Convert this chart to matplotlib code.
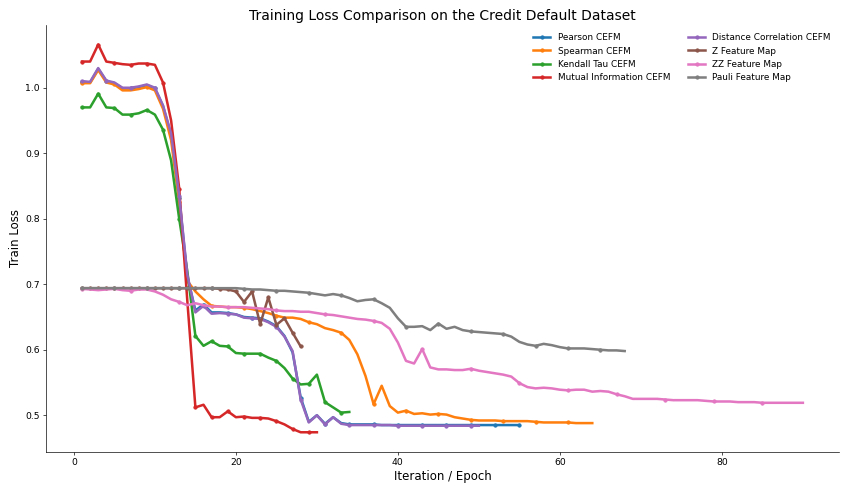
import matplotlib
matplotlib.use("Agg")
import matplotlib.pyplot as plt

pearson = [1.009, 1.008, 1.029, 1.010, 1.007, 0.999, 0.999, 1.001, 1.004, 0.999,
           0.972, 0.928, 0.832, 0.712, 0.660, 0.669, 0.657, 0.657, 0.656, 0.654,
           0.650, 0.649, 0.648, 0.643, 0.636, 0.621, 0.596, 0.527, 0.490, 0.500,
           0.487, 0.497, 0.488, 0.486, 0.486, 0.486, 0.486, 0.485, 0.485, 0.485,
           0.485, 0.485, 0.485, 0.485, 0.485, 0.485, 0.485, 0.485, 0.485, 0.485,
           0.485, 0.485, 0.485, 0.485, 0.485]
spearman = [1.007, 1.007, 1.027, 1.008, 1.005, 0.996, 0.996, 0.998, 1.001, 0.996,
            0.968, 0.920, 0.825, 0.705, 0.689, 0.677, 0.667, 0.666, 0.665, 0.665,
            0.664, 0.662, 0.659, 0.656, 0.652, 0.649, 0.649, 0.647, 0.642, 0.639,
            0.633, 0.630, 0.626, 0.615, 0.593, 0.560, 0.517, 0.545, 0.514, 0.504,
            0.507, 0.502, 0.503, 0.501, 0.502, 0.501, 0.497, 0.495, 0.493, 0.492,
            0.492, 0.492, 0.491, 0.491, 0.491, 0.491, 0.490, 0.489, 0.489, 0.489,
            0.489, 0.488, 0.488, 0.488]
kendall = [0.970, 0.970, 0.991, 0.970, 0.969, 0.959, 0.959, 0.961, 0.966, 0.959,
           0.936, 0.889, 0.800, 0.720, 0.621, 0.606, 0.613, 0.606, 0.605, 0.595,
           0.594, 0.594, 0.594, 0.588, 0.583, 0.572, 0.556, 0.547, 0.548, 0.562,
           0.520, 0.512, 0.504, 0.505]
mutual_info = [1.040, 1.040, 1.066, 1.040, 1.038, 1.036, 1.035, 1.037, 1.037, 1.035,
               1.008, 0.950, 0.846, 0.675, 0.512, 0.516, 0.497, 0.497, 0.506, 0.497,
               0.498, 0.496, 0.496, 0.495, 0.491, 0.486, 0.479, 0.474, 0.474, 0.474]
distance_corr = [1.010, 1.009, 1.030, 1.011, 1.008, 1.000, 1.000, 1.002, 1.005, 1.000,
                 0.973, 0.930, 0.835, 0.715, 0.657, 0.667, 0.655, 0.656, 0.655, 0.654,
                 0.649, 0.648, 0.647, 0.642, 0.635, 0.620, 0.598, 0.524, 0.489, 0.500,
                 0.486, 0.497, 0.487, 0.485, 0.485, 0.485, 0.485, 0.485, 0.485, 0.484,
                 0.484, 0.484, 0.484, 0.484, 0.484, 0.484, 0.484, 0.484, 0.484, 0.484]
z_map = [0.694, 0.694, 0.694, 0.694, 0.694, 0.694, 0.694, 0.694, 0.694, 0.694,
         0.694, 0.694, 0.694, 0.694, 0.694, 0.694, 0.694, 0.693, 0.692, 0.689,
         0.673, 0.689, 0.639, 0.680, 0.638, 0.648, 0.626, 0.605]
zz_map = [0.693, 0.692, 0.691, 0.692, 0.693, 0.691, 0.690, 0.692, 0.692, 0.689,
          0.684, 0.677, 0.673, 0.668, 0.671, 0.668, 0.666, 0.666, 0.665, 0.665,
          0.665, 0.664, 0.663, 0.662, 0.660, 0.659, 0.659, 0.658, 0.658, 0.656,
          0.654, 0.653, 0.651, 0.649, 0.647, 0.646, 0.644, 0.641, 0.632, 0.611,
          0.583, 0.579, 0.601, 0.573, 0.570, 0.570, 0.569, 0.569, 0.571, 0.568,
          0.566, 0.564, 0.562, 0.559, 0.549, 0.543, 0.541, 0.542, 0.541, 0.539,
          0.538, 0.539, 0.539, 0.536, 0.537, 0.536, 0.532, 0.529, 0.525, 0.525,
          0.525, 0.525, 0.524, 0.523, 0.523, 0.523, 0.523, 0.522, 0.521, 0.521,
          0.521, 0.520, 0.520, 0.520, 0.519, 0.519, 0.519, 0.519, 0.519, 0.519]
pauli_map = [0.694, 0.694, 0.694, 0.694, 0.694, 0.694, 0.694, 0.694, 0.694, 0.694,
             0.694, 0.694, 0.694, 0.694, 0.694, 0.694, 0.694, 0.694, 0.694, 0.694,
             0.693, 0.692, 0.692, 0.691, 0.690, 0.690, 0.689, 0.688, 0.687, 0.685,
             0.683, 0.685, 0.683, 0.679, 0.674, 0.676, 0.677, 0.671, 0.664, 0.648,
             0.635, 0.635, 0.636, 0.630, 0.640, 0.632, 0.635, 0.630, 0.628, 0.627,
             0.626, 0.625, 0.624, 0.620, 0.612, 0.608, 0.606, 0.609, 0.607, 0.604,
             0.602, 0.602, 0.602, 0.601, 0.600, 0.599, 0.599, 0.598]

series = [
    ("Pearson CEFM", pearson),
    ("Spearman CEFM", spearman),
    ("Kendall Tau CEFM", kendall),
    ("Mutual Information CEFM", mutual_info),
    ("Distance Correlation CEFM", distance_corr),
    ("Z Feature Map", z_map),
    ("ZZ Feature Map", zz_map),
    ("Pauli Feature Map", pauli_map),
]

fig, ax = plt.subplots(figsize=(14, 492 / (848 / 14)), dpi=848 / 14)

for label, losses in series:
    epochs = list(range(1, len(losses) + 1))
    ax.plot(epochs, losses, marker='o', markersize=4, linewidth=3,
            markevery=max(1, len(losses) // 15), label=label)

ax.set_title("Training Loss Comparison on the Credit Default Dataset", fontsize=16.5)
ax.set_xlabel("Iteration / Epoch", fontsize=14)
ax.set_ylabel("Train Loss", fontsize=14)
ax.tick_params(labelsize=11)
ax.spines['top'].set_visible(False)
ax.spines['right'].set_visible(False)
ax.legend(ncol=2, frameon=False, fontsize=10.5, loc='upper right')

plt.tight_layout()
plt.savefig("out.png")
